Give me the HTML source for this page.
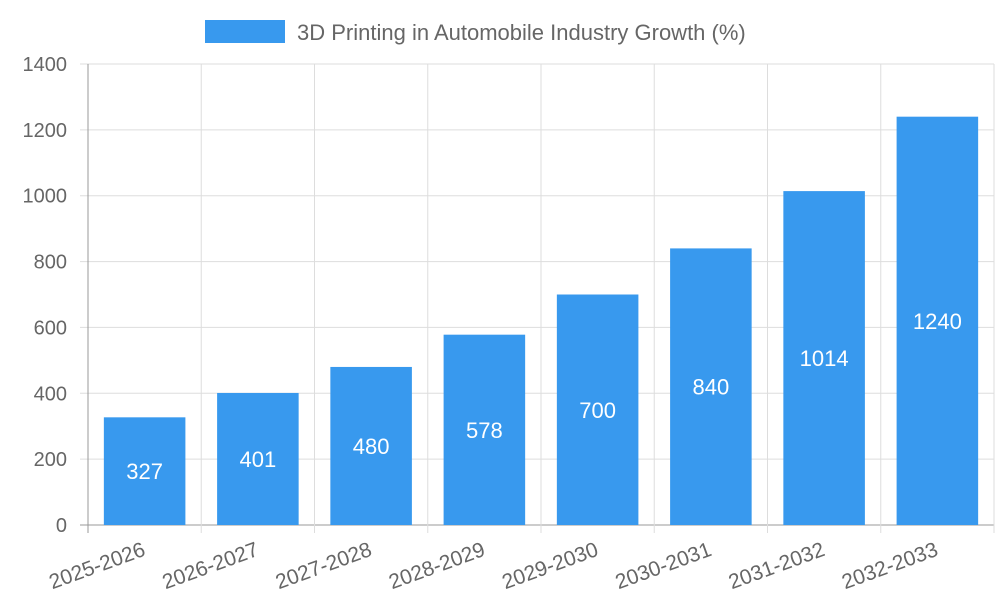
<!DOCTYPE html>
<html><head><meta charset="utf-8"><style>
body{margin:0;background:#fff;}
svg text{font-family:"Liberation Sans",sans-serif;}
</style></head><body>
<svg id="chart" width="1000" height="600" xmlns="http://www.w3.org/2000/svg">
<g>
<rect x="205" y="20" width="80" height="23" fill="#3899ee"/>
<text x="297" y="40" font-size="22" fill="#666">3D Printing in Automobile Industry Growth (%)</text>
</g>
<g id="grid"></g><g id="bars"></g><g id="labels"></g>
</svg>
<script>
const categories=["2025-2026","2026-2027","2027-2028","2028-2029","2029-2030","2030-2031","2031-2032","2032-2033"];
const values=[327,401,480,578,700,840,1014,1240];
const yTicks=[0,200,400,600,800,1000,1200,1400];
const NS="http://www.w3.org/2000/svg";
const L=88,R=994,T=64,B=525,yMax=1400;
const bw=(R-L)/categories.length;
const y=v=>B-(v/yMax)*(B-T);
const x=i=>L+i*bw;
function mk(p,tag,a,txt){const e=document.createElementNS(NS,tag);for(const k in a)e.setAttribute(k,a[k]);if(txt!==undefined)e.textContent=txt;p.appendChild(e);return e;}
const g=document.getElementById('grid'),bg=document.getElementById('bars'),lg=document.getElementById('labels');
yTicks.forEach(t=>{
 const ln=mk(g,'line',{x1:L-8,x2:R,y1:y(t),y2:y(t),stroke:t===0?'#999':'#ddd','stroke-width':1});
 
 
 const tx=mk(g,'text',{x:67,y:y(t)+7,'text-anchor':'end','font-size':20,fill:'#666'},t);
 
 
});
for(let i=0;i<=categories.length;i++){
 const ln=mk(g,'line',{x1:x(i),x2:x(i),y1:T,y2:B+8,stroke:i===0?'#999':'#ddd','stroke-width':1});
 
 
}
categories.forEach((c,i)=>{
 const cx=x(i)+bw/2,w=bw*0.72;
 const r=mk(bg,'rect',{x:cx-w/2,y:y(values[i]),width:w,height:B-y(values[i]),fill:'#3899ee'});
 
 
 const v=mk(lg,'text',{x:cx,y:(y(values[i])+B)/2+8,'text-anchor':'middle','font-size':22,fill:'#fff'},values[i]);
 
 
 const t=mk(lg,'text',{x:cx+2,y:B+30,'text-anchor':'end','font-size':21,fill:'#666',transform:`rotate(-20 ${cx+2} ${B+30})`},c);
 
 
});
</script>
</body></html>
